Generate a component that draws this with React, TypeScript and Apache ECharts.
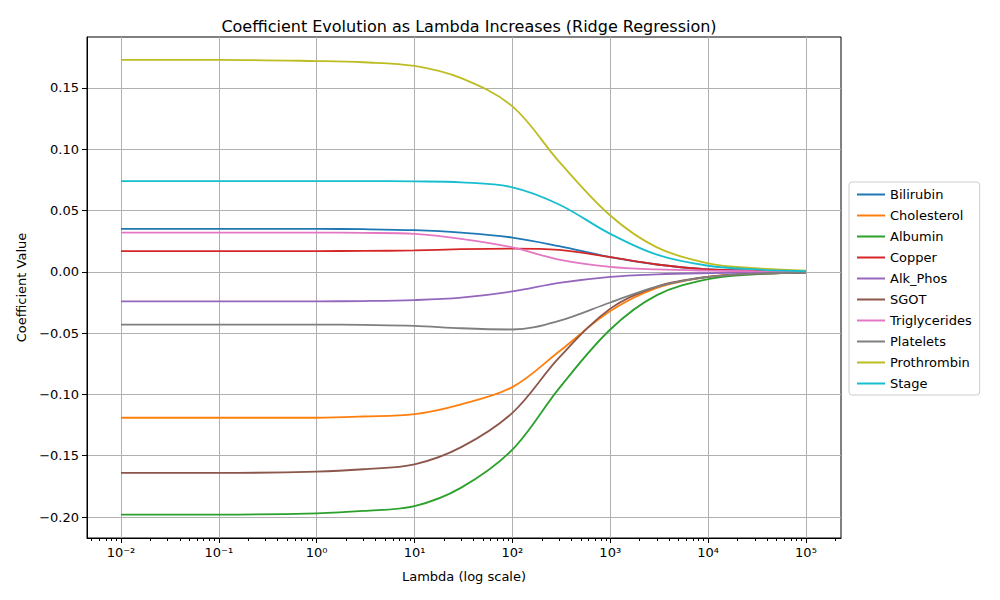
import React, { useEffect, useRef } from 'react'
import * as echarts from 'echarts'

const lambdas = [0.01, 0.1, 1, 3, 10, 30, 100, 300, 1000, 3000, 10000, 30000, 100000]

const seriesNames = ['Bilirubin', 'Cholesterol', 'Albumin', 'Copper', 'Alk_Phos', 'SGOT', 'Triglycerides', 'Platelets', 'Prothrombin', 'Stage']
const colors = ['#1f77b4', '#ff7f0e', '#2ca02c', '#d62728', '#9467bd', '#8c564b', '#e377c2', '#7f7f7f', '#bcbd22', '#17becf']

const bilirubin = [0.035, 0.035, 0.035, 0.0348, 0.034, 0.032, 0.028, 0.021, 0.012, 0.006, 0.002, 0.001, 0.0003]
const cholesterol = [-0.119, -0.119, -0.119, -0.118, -0.116, -0.108, -0.094, -0.065, -0.032, -0.013, -0.004, -0.0015, -0.0005]
const albumin = [-0.198, -0.198, -0.197, -0.195, -0.191, -0.176, -0.145, -0.095, -0.047, -0.019, -0.006, -0.002, -0.0006]
const copper = [0.017, 0.017, 0.017, 0.0171, 0.0175, 0.0185, 0.019, 0.018, 0.012, 0.006, 0.002, 0.001, 0.0003]
const alkPhos = [-0.024, -0.024, -0.024, -0.0238, -0.023, -0.021, -0.016, -0.009, -0.004, -0.002, -0.001, -0.0005, -0.0001]
const sgot = [-0.164, -0.164, -0.163, -0.161, -0.157, -0.143, -0.115, -0.07, -0.03, -0.012, -0.004, -0.0015, -0.0005]
const triglycerides = [0.032, 0.032, 0.032, 0.0318, 0.031, 0.027, 0.02, 0.01, 0.004, 0.002, 0.001, 0.0005, 0.0001]
const platelets = [-0.043, -0.043, -0.043, -0.0433, -0.044, -0.046, -0.047, -0.04, -0.025, -0.012, -0.004, -0.0015, -0.0005]
const prothrombin = [0.173, 0.173, 0.172, 0.171, 0.168, 0.158, 0.135, 0.09, 0.046, 0.02, 0.007, 0.003, 0.001]
const stage = [0.074, 0.074, 0.074, 0.074, 0.0738, 0.073, 0.069, 0.055, 0.031, 0.014, 0.005, 0.002, 0.0005]

const values = [bilirubin, cholesterol, albumin, copper, alkPhos, sgot, triglycerides, platelets, prothrombin, stage]

const xMajor = [-2, -1, 0, 1, 2, 3, 4, 5]
const yTicks = [-0.2, -0.15, -0.1, -0.05, 0, 0.05, 0.1, 0.15]

const xMinor: number[] = []
for (let d = -3; d <= 5; d++) {
  for (let k = 2; k <= 9; k++) {
    const v = d + Math.log10(k)
    if (v > -2.347 && v < 5.358) xMinor.push(v)
  }
}

const sup: Record<string, string> = { '-': '⁻', '0': '⁰', '1': '¹', '2': '²', '3': '³', '4': '⁴', '5': '⁵' }

const App: React.FC = () => {
  const chartRef = useRef<HTMLDivElement>(null)

  useEffect(() => {
    if (!chartRef.current) return
    const chart = echarts.init(chartRef.current, null, { renderer: 'svg' })
    const font = 'DejaVu Sans'
    chart.setOption({
      animation: false,
      textStyle: { fontFamily: font },
      title: {
        text: 'Coefficient Evolution as Lambda Increases (Ridge Regression)',
        left: 464, top: 13, textAlign: 'center',
        textStyle: { fontSize: 16, fontWeight: 'normal', color: '#000', fontFamily: font }
      },
      grid: { left: 87, right: 159, top: 37, bottom: 62, show: true, borderColor: '#000', borderWidth: 1 },
      legend: {
        orient: 'vertical', left: 849, top: 182,
        itemWidth: 28, itemHeight: 2, itemGap: 8,
        icon: 'rect',
        backgroundColor: '#fff', borderColor: '#ccc', borderWidth: 1, borderRadius: 3,
        padding: [6, 8, 5, 8],
        textStyle: { fontSize: 13, color: '#000', fontFamily: font },
        data: seriesNames
      },
      xAxis: [
        {
          type: 'value', min: -2.347, max: 5.358,
          name: 'Lambda (log scale)', nameLocation: 'middle', nameGap: 32,
          nameTextStyle: { fontSize: 13, color: '#000' },
          axisLine: { onZero: false, lineStyle: { color: '#000' } },
          axisTick: { customValues: xMajor, length: 5, inside: false, lineStyle: { color: '#000' } },
          axisLabel: {
            customValues: xMajor, color: '#000', fontSize: 13, margin: 8,
            formatter: (v: number) => '10' + String(Math.round(v)).split('').map(c => sup[c]).join('')
          },
          splitLine: { show: true, lineStyle: { color: '#b0b0b0', width: 1 } }
        },
        {
          type: 'value', min: -2.347, max: 5.358, position: 'bottom',
          axisLine: { show: false, onZero: false },
          axisTick: { customValues: xMinor, length: 3, lineStyle: { color: '#000' } },
          axisLabel: { show: false },
          splitLine: { show: false }
        }
      ],
      yAxis: {
        type: 'value', min: -0.2171, max: 0.1916,
        name: 'Coefficient Value', nameLocation: 'middle', nameGap: 58,
        nameTextStyle: { fontSize: 13, color: '#000' },
        axisLine: { show: true, onZero: false, lineStyle: { color: '#000' } },
        axisTick: { show: true, customValues: yTicks, length: 5, lineStyle: { color: '#000' } },
        axisLabel: {
          customValues: yTicks, color: '#000', fontSize: 13,
          formatter: (v: number) => (v < 0 ? '−' : '') + Math.abs(v).toFixed(2)
        },
        splitLine: { show: true, lineStyle: { color: '#b0b0b0', width: 1 } }
      },
      series: seriesNames.map((name, i) => ({
        name, type: 'line', xAxisIndex: 0,
        data: lambdas.map((l, j) => [Math.log10(l), values[i][j]]),
        smooth: 0.35, showSymbol: false,
        lineStyle: { color: colors[i], width: 1.8 },
        itemStyle: { color: colors[i] }
      }))
    })
    return () => chart.dispose()
  }, [])

  return <div ref={chartRef} style={{ width: 1000, height: 600, position: 'absolute', left: 0, top: 0 }} />
}

export default App
